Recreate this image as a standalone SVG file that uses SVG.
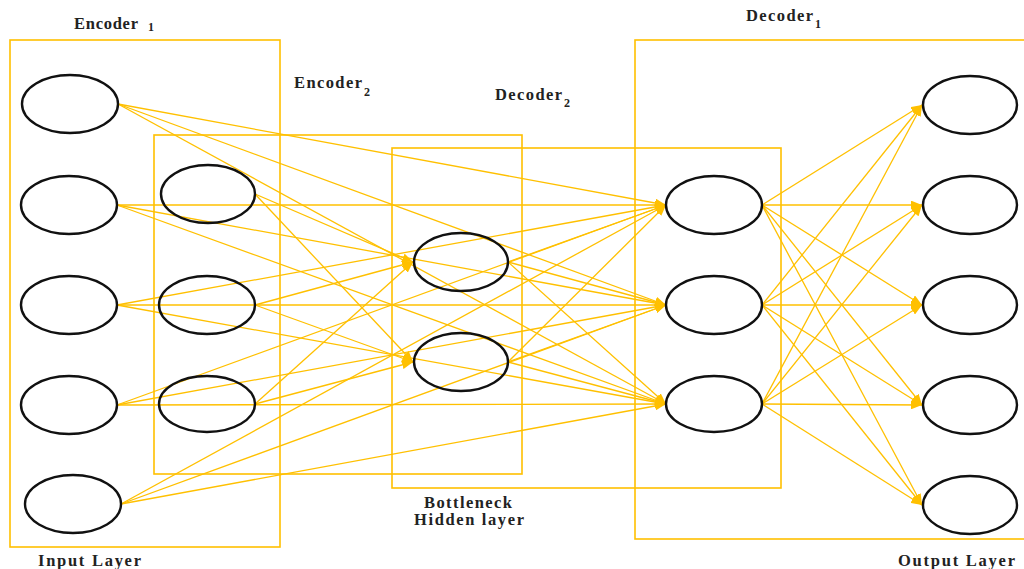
<svg xmlns="http://www.w3.org/2000/svg" width="1024" height="569" viewBox="0 0 1024 569">
<defs>
<marker id="arr" viewBox="0 0 10 8" refX="10" refY="4" markerWidth="11" markerHeight="9" markerUnits="userSpaceOnUse" orient="auto">
<path d="M0,0 L10,4 L0,8 z" fill="#FFC000"/>
</marker>
</defs>
<style>
.box{fill:none;stroke:#FFC000;stroke-width:1.6}
.node{fill:none;stroke:#111;stroke-width:2.4}
.lbl{font-family:"Liberation Serif","DejaVu Serif",serif;font-weight:bold;font-size:16.5px;fill:#222}
.sub{font-family:"Liberation Serif","DejaVu Serif",serif;font-weight:bold;font-size:12px;fill:#222}
#connectors line{stroke:#FFC000;stroke-width:1.3;marker-end:url(#arr)}
</style>
<rect width="1024" height="569" fill="#fff"/>
<g id="encoder1-box">
<rect class="box" x="10" y="40" width="270" height="507"/>
<text class="lbl" x="74" y="29" textLength="64" lengthAdjust="spacing">Encoder</text>
<text class="sub" x="148" y="31">1</text>
<text class="lbl" x="38" y="566" textLength="103" lengthAdjust="spacing">Input Layer</text>
</g>
<g id="encoder2-box">
<rect class="box" x="154" y="135" width="368" height="339"/>
<text class="lbl" x="294" y="88" textLength="68" lengthAdjust="spacing">Encoder</text>
<text class="sub" x="364" y="96">2</text>
</g>
<g id="decoder2-box">
<rect class="box" x="392" y="148" width="389" height="340"/>
<text class="lbl" x="495" y="100" textLength="67" lengthAdjust="spacing">Decoder</text>
<text class="sub" x="564" y="107">2</text>
<text class="lbl" x="424" y="508" textLength="88" lengthAdjust="spacing">Bottleneck</text>
<text class="lbl" x="414" y="525" textLength="110" lengthAdjust="spacing">Hidden layer</text>
</g>
<g id="decoder1-box">
<rect class="box" x="635" y="40" width="420" height="499"/>
<text class="lbl" x="746" y="21" textLength="67" lengthAdjust="spacing">Decoder</text>
<text class="sub" x="815" y="28">1</text>
<text class="lbl" x="898" y="566" textLength="117" lengthAdjust="spacing">Output Layer</text>
</g>
<g id="connectors">
<line x1="118" y1="104" x2="666" y2="205"/>
<line x1="118" y1="104" x2="666" y2="305"/>
<line x1="118" y1="104" x2="666" y2="404"/>
<line x1="117" y1="205" x2="666" y2="205"/>
<line x1="117" y1="205" x2="666" y2="305"/>
<line x1="117" y1="205" x2="666" y2="404"/>
<line x1="117" y1="305" x2="666" y2="205"/>
<line x1="117" y1="305" x2="666" y2="305"/>
<line x1="117" y1="305" x2="666" y2="404"/>
<line x1="117" y1="405" x2="666" y2="205"/>
<line x1="117" y1="405" x2="666" y2="305"/>
<line x1="117" y1="405" x2="666" y2="404"/>
<line x1="121" y1="504" x2="666" y2="205"/>
<line x1="121" y1="504" x2="666" y2="305"/>
<line x1="121" y1="504" x2="666" y2="404"/>
<line x1="255" y1="194" x2="413" y2="262"/>
<line x1="255" y1="194" x2="413" y2="362"/>
<line x1="255" y1="305" x2="413" y2="262"/>
<line x1="255" y1="305" x2="413" y2="362"/>
<line x1="255" y1="404" x2="413" y2="262"/>
<line x1="255" y1="404" x2="413" y2="362"/>
<line x1="508" y1="262" x2="666" y2="205"/>
<line x1="508" y1="262" x2="666" y2="305"/>
<line x1="508" y1="262" x2="666" y2="404"/>
<line x1="508" y1="362" x2="666" y2="205"/>
<line x1="508" y1="362" x2="666" y2="305"/>
<line x1="508" y1="362" x2="666" y2="404"/>
<line x1="762" y1="205" x2="922" y2="105"/>
<line x1="762" y1="205" x2="922" y2="205"/>
<line x1="762" y1="205" x2="922" y2="305"/>
<line x1="762" y1="205" x2="922" y2="405"/>
<line x1="762" y1="205" x2="922" y2="505"/>
<line x1="762" y1="305" x2="922" y2="105"/>
<line x1="762" y1="305" x2="922" y2="205"/>
<line x1="762" y1="305" x2="922" y2="305"/>
<line x1="762" y1="305" x2="922" y2="405"/>
<line x1="762" y1="305" x2="922" y2="505"/>
<line x1="762" y1="404" x2="922" y2="105"/>
<line x1="762" y1="404" x2="922" y2="205"/>
<line x1="762" y1="404" x2="922" y2="305"/>
<line x1="762" y1="404" x2="922" y2="405"/>
<line x1="762" y1="404" x2="922" y2="505"/>
</g>
<g id="input1"><ellipse class="node" cx="70" cy="104" rx="48" ry="29"/></g>
<g id="input2"><ellipse class="node" cx="69" cy="205" rx="48" ry="29"/></g>
<g id="input3"><ellipse class="node" cx="69" cy="305" rx="48" ry="29"/></g>
<g id="input4"><ellipse class="node" cx="69" cy="405" rx="48" ry="29"/></g>
<g id="input5"><ellipse class="node" cx="73" cy="504" rx="48" ry="29"/></g>
<g id="enc2-1"><ellipse class="node" cx="208" cy="194" rx="47" ry="29"/></g>
<g id="enc2-2"><ellipse class="node" cx="207" cy="305" rx="48" ry="29"/></g>
<g id="enc2-3"><ellipse class="node" cx="207" cy="404" rx="48" ry="28"/></g>
<g id="bottleneck1"><ellipse class="node" cx="461" cy="262" rx="47" ry="29"/></g>
<g id="bottleneck2"><ellipse class="node" cx="461" cy="362" rx="47" ry="29"/></g>
<g id="dec2-1"><ellipse class="node" cx="714" cy="205" rx="48" ry="29"/></g>
<g id="dec2-2"><ellipse class="node" cx="714" cy="305" rx="48" ry="29"/></g>
<g id="dec2-3"><ellipse class="node" cx="714" cy="404" rx="48" ry="28"/></g>
<g id="output1"><ellipse class="node" cx="970" cy="105" rx="47" ry="29"/></g>
<g id="output2"><ellipse class="node" cx="970" cy="205" rx="47" ry="29"/></g>
<g id="output3"><ellipse class="node" cx="970" cy="305" rx="47" ry="29"/></g>
<g id="output4"><ellipse class="node" cx="970" cy="405" rx="47" ry="29"/></g>
<g id="output5"><ellipse class="node" cx="970" cy="505" rx="47" ry="29"/></g>
</svg>
